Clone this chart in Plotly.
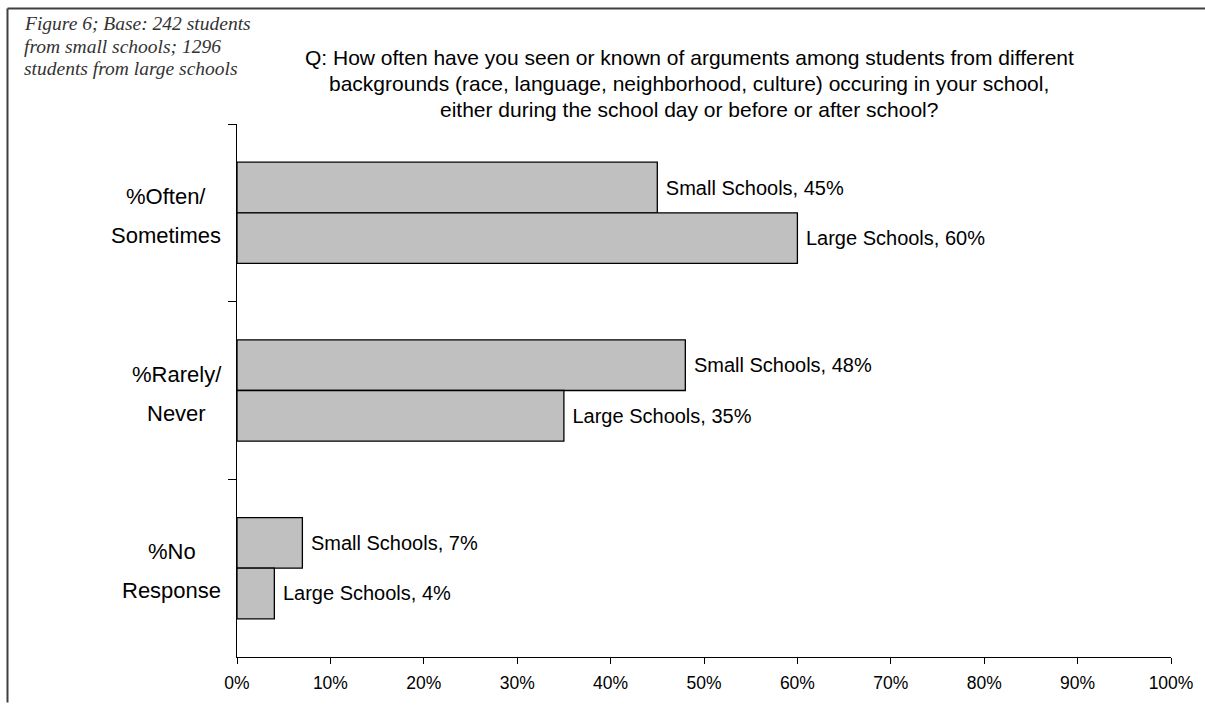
import plotly.graph_objects as go

# Survey responses (percent of students)
categories = ["%Often/<br>Sometimes", "%Rarely/<br>Never", "%No<br>Response"]
series_names = ["Small Schools", "Large Schools"]
small_schools = [45, 48, 7]
large_schools = [60, 35, 4]

x_ticks = [0, 10, 20, 30, 40, 50, 60, 70, 80, 90, 100]
x_tick_labels = ["0%", "10%", "20%", "30%", "40%", "50%", "60%", "70%", "80%", "90%", "100%"]

title_lines = [
    "Q: How often have you seen or known of arguments among students from different",
    "backgrounds (race, language, neighborhood, culture) occuring in your school,",
    "either during the school day or before or after school?",
]
note_lines = [
    "Figure 6; Base: 242 students",
    "from small schools; 1296",
    "students from large schools",
]

# Page geometry (pixels)
W, H = 1205, 705
ML, MR, MT, MB = 237, 32, 124, 41
PW, PH = W - ML - MR, H - MT - MB

SANS = "Liberation Sans, Arial, sans-serif"
SERIF = "Liberation Serif, Times New Roman, serif"
CAT_SIZE = 22
CAT_LINE = 39       # px between the two lines of a category label
CAT_RIGHT = 221     # right edge of the category label block

# Liberation Sans / Arial advance widths (em) for the label glyphs
ADVANCE = {
    "%": 0.889, "/": 0.278, "O": 0.778, "S": 0.667, "R": 0.722, "N": 0.722,
    "a": 0.556, "e": 0.556, "f": 0.278, "i": 0.222, "l": 0.222, "m": 0.833,
    "n": 0.556, "o": 0.556, "p": 0.556, "r": 0.333, "s": 0.5, "t": 0.278,
    "v": 0.5, "y": 0.5,
}


def text_width(s, size):
    return sum(ADVANCE.get(c, 0.556) for c in s) * size


def px_x(px):
    return (px - ML) / PW


def px_y(py):
    return (H - MB - py) / PH


fig = go.Figure()
for name, vals in zip(series_names, [small_schools, large_schools]):
    fig.add_trace(go.Bar(
        name=name,
        x=vals,
        y=categories,
        orientation="h",
        marker=dict(color="#C0C0C0", line=dict(color="#000000", width=1.3)),
        text=[f"\u00a0{name}, {v}%" for v in vals],
        textposition="outside",
        textfont=dict(family=SANS, size=20, color="#000000"),
        cliponaxis=False,
        constraintext="none",
        hoverinfo="skip",
    ))

annotations = []
for i, line in enumerate(title_lines):
    annotations.append(dict(
        text=line, xref="paper", yref="paper",
        x=px_x(690), y=px_y(57 + i * 26), xanchor="center", yanchor="middle",
        showarrow=False, font=dict(family=SANS, size=21, color="#000000"),
    ))
for i, line in enumerate(note_lines):
    annotations.append(dict(
        text=line, xref="paper", yref="paper",
        x=px_x(22), y=px_y(22 + i * 23), xanchor="left", yanchor="middle",
        showarrow=False,
        font=dict(family=SERIF, size=19.5, color="#333333", style="italic"),
    ))

# Category labels: lines centred inside a right-aligned block
for cat in categories:
    lines = cat.split("<br>")
    block = max(text_width(s, CAT_SIZE) for s in lines)
    cx = CAT_RIGHT - block / 2
    n = len(lines)
    for j, line in enumerate(lines):
        annotations.append(dict(
            text=line, xref="paper", yref="y",
            x=px_x(cx), y=cat, xanchor="center", yanchor="middle",
            yshift=((n - 1) / 2 - j) * CAT_LINE - 3, showarrow=False,
            font=dict(family=SANS, size=CAT_SIZE, color="#000000"),
        ))

# outer frame (top and left edges)
shapes = [
    dict(type="line", xref="paper", yref="paper",
         x0=px_x(7), x1=px_x(W + 5), y0=px_y(7), y1=px_y(7),
         line=dict(color="#404040", width=2)),
    dict(type="line", xref="paper", yref="paper",
         x0=px_x(7), x1=px_x(7), y0=px_y(7), y1=px_y(H + 5),
         line=dict(color="#404040", width=2)),
]

fig.update_layout(
    width=W, height=H,
    margin=dict(l=ML, r=MR, t=MT, b=MB),
    paper_bgcolor="#FFFFFF", plot_bgcolor="#FFFFFF",
    barmode="group", bargap=0.43, bargroupgap=0,
    showlegend=False,
    annotations=annotations,
    shapes=shapes,
    xaxis=dict(
        range=[0, 100], tickmode="array", tickvals=x_ticks, ticktext=x_tick_labels,
        ticks="outside", ticklen=6, tickwidth=1.3, tickcolor="#000000",
        ticklabelstandoff=4,
        showline=True, linecolor="#000000", linewidth=1.3,
        showgrid=False, zeroline=False,
        tickfont=dict(family=SANS, size=17.5, color="#000000"),
    ),
    yaxis=dict(
        type="category", categoryorder="array", categoryarray=categories,
        range=[2.5, -0.5],
        ticks="outside", tickson="boundaries", ticklen=8, tickwidth=1.3,
        tickcolor="#000000", showline=True, linecolor="#000000", linewidth=1.3,
        showticklabels=False, showgrid=False, zeroline=False,
    ),
)

fig.write_html("out.html")
